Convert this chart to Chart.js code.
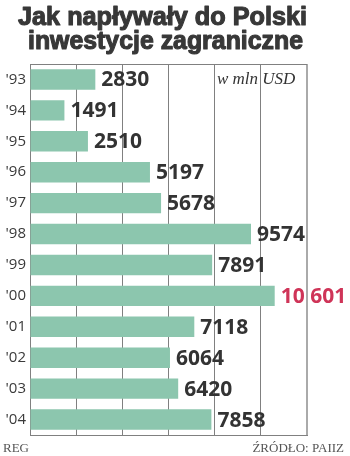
<!DOCTYPE html>
<html>
<head>
<meta charset="utf-8">
<script src="https://cdn.jsdelivr.net/npm/chart.js@4/dist/chart.umd.min.js"></script>
<style>
  html, body { margin: 0; padding: 0; background: #fff; }
  #wrap { position: relative; width: 350px; height: 456px; }
</style>
</head>
<body>
<div id="wrap"><canvas id="c" width="350" height="456"></canvas></div>
<script>
const years = ["'93", "'94", "'95", "'96", "'97", "'98", "'99", "'00", "'01", "'02", "'03", "'04"];
const investments = [2830, 1491, 2510, 5197, 5678, 9574, 7891, 10601, 7118, 6064, 6420, 7858];
const highlightYear = "'00";
const titleLines = ["Jak napływały do Polski", "inwestycje zagraniczne"];
const unitNote = "w mln USD";
const leftNote = "REG";
const sourceNote = "ŹRÓDŁO: PAIIZ";

const barColor = '#8cc6ae';
const textColor = '#333333';
const redColor = '#cf3458';

function fmt(v) {
  const s = String(v);
  return v >= 10000 ? s.slice(0, s.length - 3) + ' ' + s.slice(-3) : s;
}

const decor = {
  id: 'decor',
  beforeDatasetsDraw(chart) {
    const { ctx, chartArea: a } = chart;
    ctx.save();
    ctx.strokeStyle = '#808080';
    ctx.lineWidth = 1;
    ctx.beginPath();
    ctx.moveTo(a.left, a.top + 0.5);
    ctx.lineTo(a.right, a.top + 0.5);
    ctx.stroke();
    ctx.restore();
  },
  afterDatasetsDraw(chart) {
    const { ctx } = chart;
    const meta = chart.getDatasetMeta(0);
    ctx.save();
    ctx.textBaseline = 'middle';
    ctx.textAlign = 'left';
    ctx.font = 'bold 21px "Open Sans"';
    meta.data.forEach((bar, i) => {
      ctx.fillStyle = years[i] === highlightYear ? redColor : textColor;
      ctx.fillText(fmt(investments[i]), bar.x + 6, bar.y + 1);
    });
    // unit note
    ctx.font = 'italic 17px "Liberation Serif"';
    ctx.fillStyle = textColor;
    ctx.textBaseline = 'alphabetic';
    ctx.fillText(unitNote, 217, 84);
    // title
    ctx.font = 'bold 25px "Liberation Sans"';
    ctx.fillStyle = '#383838';
    ctx.strokeStyle = '#383838';
    ctx.lineWidth = 1.1;
    ctx.lineJoin = 'round';
    const targets = [[18, 307, 25], [28, 303, 49]];
    titleLines.forEach((t, i) => {
      const [x0, x1, y] = targets[i];
      const w = ctx.measureText(t).width;
      ctx.save();
      ctx.translate(x0, y);
      ctx.scale((x1 - x0) / w, 1);
      ctx.fillText(t, 0, 0);
      ctx.strokeText(t, 0, 0);
      ctx.restore();
    });
    // footer
    ctx.font = '13px "Liberation Serif"';
    ctx.fillStyle = '#555';
    ctx.textAlign = 'left';
    ctx.fillText(leftNote, 3, 452);
    ctx.textAlign = 'right';
    ctx.fillText(sourceNote, 344, 452);
    ctx.restore();
  }
};

new Chart(document.getElementById('c'), {
  type: 'bar',
  data: {
    labels: years,
    datasets: [{
      data: investments,
      backgroundColor: barColor,
      borderWidth: 0,
      barPercentage: 0.66,
      categoryPercentage: 1
    }]
  },
  options: {
    indexAxis: 'y',
    responsive: false,
    animation: false,
    layout: { padding: { top: 64, bottom: 21, left: 0, right: 43 } },
    plugins: { legend: { display: false }, tooltip: { enabled: false }, title: { display: false } },
    scales: {
      x: {
        min: 0, max: 12000,
        ticks: { display: false, stepSize: 2000 },
        grid: {
          color: (c) => c.tick && c.tick.value === 12000 ? '#aaa' : '#808080',
          lineWidth: (c) => c.tick && c.tick.value === 12000 ? 2 : 1,
          drawTicks: false
        },
        border: { color: '#808080', width: 1 },
        afterFit(s) { s.height = 0; }
      },
      y: {
        ticks: { color: '#3a3a3a', font: { family: 'Open Sans', size: 15 }, padding: 4 },
        grid: { display: false, drawTicks: false },
        border: { color: '#808080', width: 1 },
        afterFit(s) { s.width = 30; }
      }
    }
  },
  plugins: [decor]
});
</script>
</body>
</html>
